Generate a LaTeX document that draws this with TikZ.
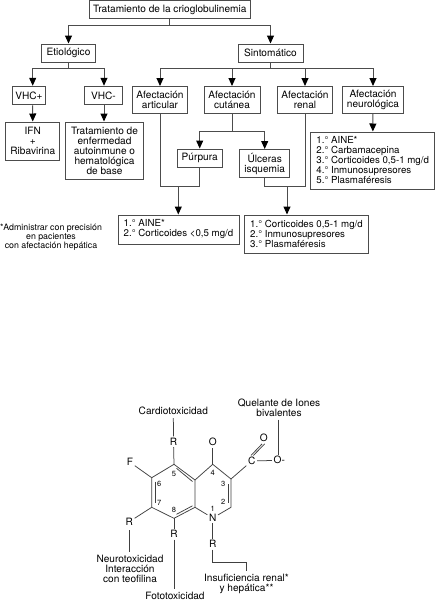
\documentclass[tikz,border=0pt]{standalone}
\usepackage{fontspec}
\setmainfont{TeX Gyre Heros}
\usetikzlibrary{arrows.meta, positioning}

\begin{document}
\begin{tikzpicture}[
    x=1pt, y=-1pt,
    every node/.style={font=\fontsize{10.1}{10}\selectfont, inner sep=0pt},
    box/.style={rectangle, draw=black!70, line width=1pt, align=center},
    listbox/.style={box, align=left, font=\fontsize{9.7}{10}\selectfont},
    line/.style={draw=black!70, line width=1pt},
    arrow/.style={line, -{Triangle[length=8pt, width=7pt, black]}},
    bond/.style={draw=black!75, line width=0.75pt},
    atom/.style={inner sep=1.5pt},
    num/.style={font=\fontsize{7.5}{8}\selectfont}
]
    \useasboundingbox (0,0) rectangle (435,600);

    % Tree top
    \node[box, minimum width=160.5pt, minimum height=18.5pt] (top) at (169.8,9.5) {Tratamiento de la crioglobulinemia};
    \node[box, minimum width=54pt, minimum height=18pt] (etio) at (68.5,53) {Etiológico};
    \node[box, minimum width=65pt, minimum height=18pt] (sinto) at (270.5,53) {Sintomático};
    \coordinate (jtop) at (169.8,25);
    \draw[line] (top) -- (jtop);
    \draw[arrow] (jtop) -| (etio);
    \draw[arrow] (jtop) -| (sinto);

    % Etiologico
    \node[box, minimum width=33pt, minimum height=18.5pt] (vhcp) at (29,95.5) {VHC+};
    \node[box, minimum width=38pt, minimum height=18.5pt] (vhcm) at (103.5,95.5) {VHC-};
    \node[box, minimum width=54pt, minimum height=38pt] (ifn) at (32.8,141) {IFN\\+\\Ribavirina};
    \node[box, minimum width=78pt, minimum height=57pt] (tto) at (104.5,150.5) {Tratamiento de\\enfermedad\\autoinmune o\\hematológica\\de base};
    \coordinate (jetio) at (68.5,68.5);
    \draw[line] (etio) -- (jetio);
    \draw[arrow] (jetio) -| ([xshift=3.7pt]vhcp.north);
    \draw[arrow] (jetio) -| ([xshift=0.5pt]vhcm.north);
    \draw[arrow] ([xshift=3.7pt]vhcp.south) -- (ifn);
    \draw[arrow] ([xshift=0.5pt]vhcm.south) -- ([xshift=-0.5pt]tto.north);

    % Sintomatico
    \node[box, minimum width=55pt, minimum height=27pt] (artic) at (160,100) {Afectación\\articular};
    \node[box, minimum width=56pt, minimum height=27pt] (cutan) at (232,100) {Afectación\\cutánea};
    \node[box, minimum width=55pt, minimum height=27pt] (renal) at (305,100) {Afectación\\renal};
    \node[box, minimum width=61pt, minimum height=27pt] (neuro) at (373,100) {Afectación\\neurológica};
    \coordinate (jsinto) at (270.5,68.5);
    \draw[line] (sinto) -- (jsinto);
    \draw[arrow] (jsinto) -| (artic);
    \draw[arrow] (jsinto) -| (cutan);
    \draw[arrow] (jsinto) -| (renal);
    \draw[arrow] (jsinto) -| (neuro);

    % Cutanea
    \node[box, minimum width=45pt, minimum height=18pt] (purp) at (199.7,158) {Púrpura};
    \node[box, minimum width=50pt, minimum height=28pt] (ulc) at (264.7,163.5) {Úlceras\\isquemia};
    \coordinate (jcutan) at (232,131);
    \draw[line] (cutan) -- (jcutan);
    \draw[arrow] (jcutan) -| (purp);
    \draw[arrow] (jcutan) -| (ulc);

    % Treatment lists
    \node[listbox, minimum width=123.5pt, minimum height=57pt] (trneuro) at (372.7,160.5) {1.° AINE*\\2.° Carbamacepina\\3.° Corticoides 0,5-1 mg/d\\4.° Inmunosupresores\\5.° Plasmaféresis};
    \node[listbox, minimum width=121pt, minimum height=29pt] (trart) at (178.5,229.5) {1.° AINE*\\2.° Corticoides <0,5 mg/d};
    \node[listbox, minimum width=124pt, minimum height=38pt] (trrenal) at (306.5,234) {1.° Corticoides 0,5-1 mg/d\\2.° Inmunosupresores\\3.° Plasmaféresis};
    \draw[arrow] (neuro) -- (trneuro);

    % Joins
    \coordinate (jart) at (178.3,186);
    \coordinate (jren) at (287,186.5);
    \draw[line] (artic.south) |- (jart);
    \draw[line] (purp.south) |- (jart);
    \draw[line] (ulc.south) |- (jren);
    \draw[line] (renal.south) |- (jren);
    \draw[arrow] (jart) -- (jart |- trart.north);
    \draw[arrow] (jren) -- (jren |- trrenal.north);

    % Footnote
    \node[align=center, font=\fontsize{8.8}{9}\selectfont] (nota) at (51,237) {*Administrar con precisión\\en pacientes\\con afectación hepática};

    % Ring atoms
    \coordinate (c5) at (174,464.3);
    \coordinate (c6) at (151.7,477.7);
    \coordinate (c7) at (151.7,507.3);
    \coordinate (c8) at (174,518.3);
    \coordinate (c8a) at (195,507.3);
    \coordinate (c4a) at (195,480);
    \coordinate (c4) at (212.7,464.3);
    \coordinate (c3) at (231,479);
    \coordinate (c2) at (231,507.3);
    \node[atom] (n1) at (212.7,518) {N};

    % Substituents
    \node[atom] (r5) at (173.5,441.7) {R};
    \node[atom] (o4) at (212.7,442.3) {O};
    \node[atom] (fl) at (130,462.3) {F};
    \node[atom] (cc) at (251.7,461) {C};
    \node[atom] (od) at (263.7,438.3) {O};
    \node[atom] (om) at (279.3,460.3) {O-};
    \node[atom] (r7) at (129.3,521.7) {R};
    \node[atom] (r8) at (174,534.3) {R};
    \node[atom] (r1) at (212.7,544.3) {R};

    % Ring bonds
    \draw[bond] (c5) -- (c6) -- (c7) -- (c8) -- (c8a) -- (c4a) -- (c5);
    \draw[bond] (c4a) -- (c4) -- (c3) -- (c2) -- (n1) -- (c8a);
    \draw[bond] ([shift={(2.5,4)}]c5) -- ([shift={(-2.5,1.5)}]c4a);
    \draw[bond] ([shift={(4,4)}]c6) -- ([shift={(4,-4)}]c7);
    \draw[bond] ([shift={(2.5,-4)}]c8) -- ([shift={(-2.5,-1.5)}]c8a);
    \draw[bond] ([shift={(-2.5,5)}]c3) -- ([shift={(-2.5,-4)}]c2);

    % Other bonds
    \draw[bond] (r5) -- (c5);
    \draw[bond] (o4) -- (c4);
    \draw[bond] (fl) -- (c6);
    \draw[bond] (r7) -- (c7);
    \draw[bond] (r8) -- (c8);
    \draw[bond] (r1) -- (n1);
    \draw[bond] (c3) -- (cc);
    \draw[bond] (cc) -- (om);
    \draw[bond] ([xshift=-0.7pt]cc.north) -- ([xshift=-1.6pt]od.south);
    \draw[bond] ([xshift=1.7pt]cc.north) -- ([xshift=1pt]od.south);

    % Effect labels
    \node (cardio) at (173.3,411) {Cardiotoxicidad};
    \node[align=center] (quel) at (279,407.5) {Quelante de Iones\\bivalentes};
    \node[align=center] (neurotox) at (130,568.5) {Neurotoxicidad\\Interacción\\con teofilina};
    \node (foto) at (175,595.5) {Fototoxicidad};
    \node[align=center] (insuf) at (246.5,584) {Insuficiencia renal*\\y hepática**};
    \draw[bond, shorten <=3pt] (cardio) -- (r5);
    \draw[bond, shorten <=3pt] ([xshift=-0.7pt]quel.south) -- ([xshift=-1pt]om.north);
    \draw[bond, shorten >=3pt, shorten <=3pt] (r7) -- (r7 |- neurotox.north);
    \draw[bond, shorten >=3pt] (r8) -- (r8 |- foto.north);
    \draw[bond, shorten >=3pt] (r1) |- ++(0,18) -| (insuf.north);

    % Position numbers
    \node[num] (p1) at (212.7,509) {1};
    \node[num] (p2) at (223.3,502.3) {2};
    \node[num] (p3) at (223.3,483.7) {3};
    \node[num] (p4) at (212.7,472.7) {4};
    \node[num] (p5) at (174,474) {5};
    \node[num] (p6) at (159.3,483.7) {6};
    \node[num] (p7) at (159.3,503) {7};
    \node[num] (p8) at (174,510.3) {8};
\end{tikzpicture}
\end{document}
